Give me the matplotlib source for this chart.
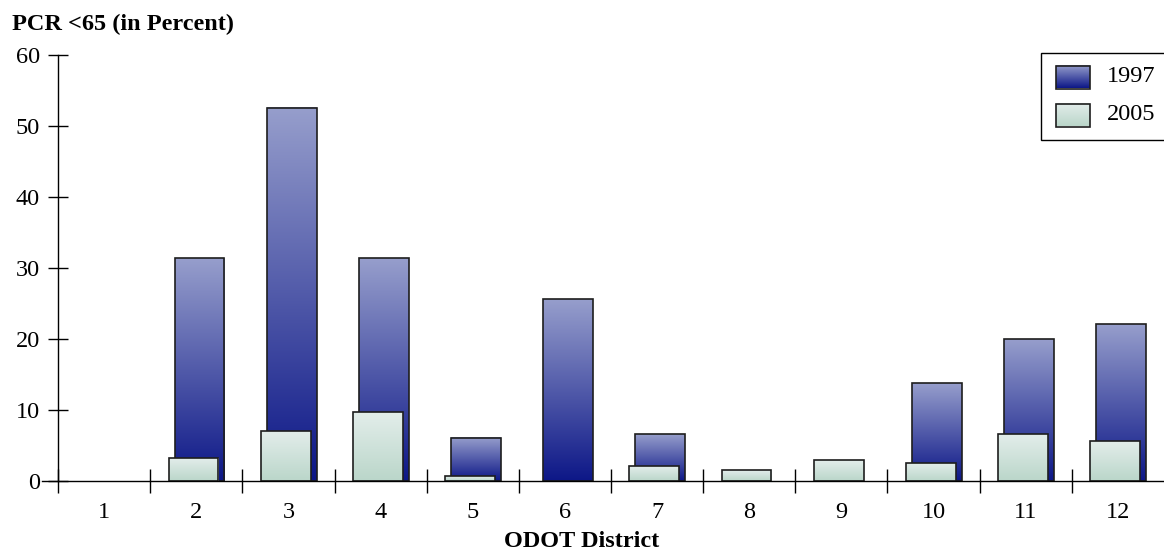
"""
PCR <65 by ODOT district, 1997 vs 2005
Bar chart with vertical gradient fills, drawn with matplotlib.
"""
import matplotlib
matplotlib.use("Agg")
import matplotlib.pyplot as plt
import numpy as np
from matplotlib.colors import LinearSegmentedColormap
from matplotlib.patches import Rectangle

###############################################################################
# Data
districts = [1, 2, 3, 4, 5, 6, 7, 8, 9, 10, 11, 12]
district_labels = [str(d) for d in districts]
pcr_1997 = [0.0, 31.4, 52.6, 31.4, 6.1, 25.6, 6.6, 0.0, 0.0, 13.8, 20.0, 22.1]
pcr_2005 = [0.0, 3.2, 7.0, 9.7, 0.7, 0.0, 2.1, 1.5, 2.9, 2.5, 6.6, 5.6]
y_ticks = [0, 10, 20, 30, 40, 50, 60]
series_names = ["1997", "2005"]

###############################################################################
# Styles
plt.rcParams["font.family"] = ["Liberation Serif", "DejaVu Serif"]
W, H = 1164, 552
fs = 17.5
blue_top, blue_bot = (0.59, 0.62, 0.80), (0.05, 0.09, 0.53)
green_top, green_bot = (0.89, 0.93, 0.92), (0.73, 0.84, 0.79)
edge = "#1e1e1e"
bar_w = 0.54


def gradient(top, bot, n=256):
    cmap = LinearSegmentedColormap.from_list("g", [top, bot])
    return cmap(np.linspace(0, 1, n))[:, None, :]


def gradient_bars(ax, xs, hs, top, bot, z):
    img = gradient(top, bot)
    for x, h in zip(xs, hs):
        if h <= 0:
            continue
        ax.imshow(img, extent=(x - bar_w / 2, x + bar_w / 2, 0, h),
                  origin="upper", aspect="auto", zorder=z,
                  interpolation="bilinear")
        ax.bar(x, h, width=bar_w, facecolor="none", edgecolor=edge,
               linewidth=1.2, zorder=z + 0.5)


fig = plt.figure(figsize=(W / 100, H / 100), dpi=100)
ax = fig.add_axes([58 / W, 1 - 481 / H, 1 - 58 / W, (481 - 55) / H])

x = np.array(districts, dtype=float)
gradient_bars(ax, x + 0.035, pcr_1997, blue_top, blue_bot, 2)
gradient_bars(ax, x - 0.03, pcr_2005, green_top, green_bot, 4)

ax.set_xlim(0.5, 12.5)
ax.set_ylim(0, 60)

# Axes & ticks
for s in ["top", "right", "bottom"]:
    ax.spines[s].set_visible(False)
ax.spines["left"].set_linewidth(1.0)
ax.plot([0.5 - 16 / 92.2, 12.5], [0, 0], color="black", lw=1.0,
        clip_on=False, zorder=6)

ax.set_yticks(y_ticks)
ax.tick_params(axis="y", direction="inout", length=14.4, width=1.0,
               labelsize=fs, pad=6)
ax.set_xticks(x)
ax.set_xticklabels(district_labels)
ax.set_xticks(np.arange(0.5, 12, 1.0), minor=True)
ax.tick_params(axis="x", which="major", length=0, labelsize=fs, pad=15)
ax.tick_params(axis="x", which="minor", direction="inout", length=16.6,
               width=1.0)

fig.text(12 / W, 1 - 30 / H, "PCR <65 (in Percent)", fontsize=fs,
         fontweight="bold", ha="left", va="baseline")
fig.text(0.5, 1 - 547 / H, "ODOT District", fontsize=fs,
         fontweight="bold", ha="center", va="baseline")

###############################################################################
# Legend (drawn by hand so the swatches keep their gradients)
lax = fig.add_axes([1041 / W, 1 - 140 / H, 1 - 1041 / W, 88 / H])
lax.axis("off")
lax.add_patch(Rectangle((1041.5, 52.5), 200, 87, facecolor="white",
                        edgecolor="black", lw=1.0, clip_on=False))
for (top, bot), name, yc in zip([(blue_top, blue_bot), (green_top, green_bot)],
                                series_names, [77, 115]):
    lax.imshow(gradient(top, bot), extent=(1056, 1090, yc + 11.5, yc - 11.5),
               origin="upper", aspect="auto", zorder=2)
    lax.add_patch(Rectangle((1056, yc - 11.5), 34, 23, facecolor="none",
                            edgecolor=edge, lw=1.2, zorder=3))
    lax.text(1107, yc, name, fontsize=fs, ha="left", va="center")
lax.set_xlim(1041, 1164)
lax.set_ylim(140, 52)

fig.savefig("out.png", dpi=100)
